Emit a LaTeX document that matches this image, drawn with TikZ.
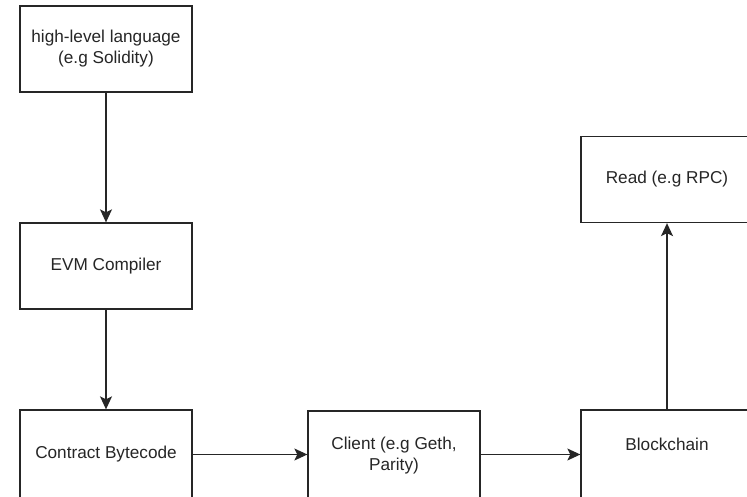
\documentclass[tikz,border=0pt]{standalone}
\usepackage{fontspec}
\setmainfont{Liberation Sans}
\usetikzlibrary{arrows.meta}
\begin{document}
\begin{tikzpicture}[x=1pt,y=-1pt,
  box/.style={draw=black!85, line width=1.3pt, fill=white,
    minimum width=172pt, minimum height=86pt, inner sep=0pt,
    align=center, text=black!85,
    font=\fontsize{17.2}{21}\selectfont},
  lowbox/.style={box, minimum height=89pt},
  flow/.style={draw=black!85, line width=1.3pt,
    -{Stealth[length=13pt,width=12pt,inset=3pt]}}]
  \useasboundingbox (0,0) rectangle (747,497);
  \fill[white] (0,0) rectangle (747,497);
  \clip (0,0) rectangle (747,497);

  % left column: source to bytecode
  \node[box] (lang) at (106,49) {high-level language\\(e.g Solidity)};
  \node[box] (evm) at (106,266) {EVM Compiler};
  \node[lowbox] (bytecode) at (106,454.5) {Contract Bytecode};

  % bottom row and the read path
  \node[lowbox] (client) at (394,455.5) {Client (e.g Geth,\\Parity)};
  \node[lowbox, label={[yshift=10pt,text=black!85,font=\fontsize{17.2}{21}\selectfont]center:Blockchain}] (chain) at (667,454.5) {};
  \node[box] (read) at (667,179.5) {Read (e.g RPC)};

  \draw[flow] (lang) -- (evm);
  \draw[flow] (evm) -- (bytecode);
  \draw[flow] (bytecode) -- (client.west |- bytecode);
  \draw[flow] (client.east |- bytecode) -- (chain);
  \draw[flow] (chain) -- (read);
\end{tikzpicture}
\end{document}
